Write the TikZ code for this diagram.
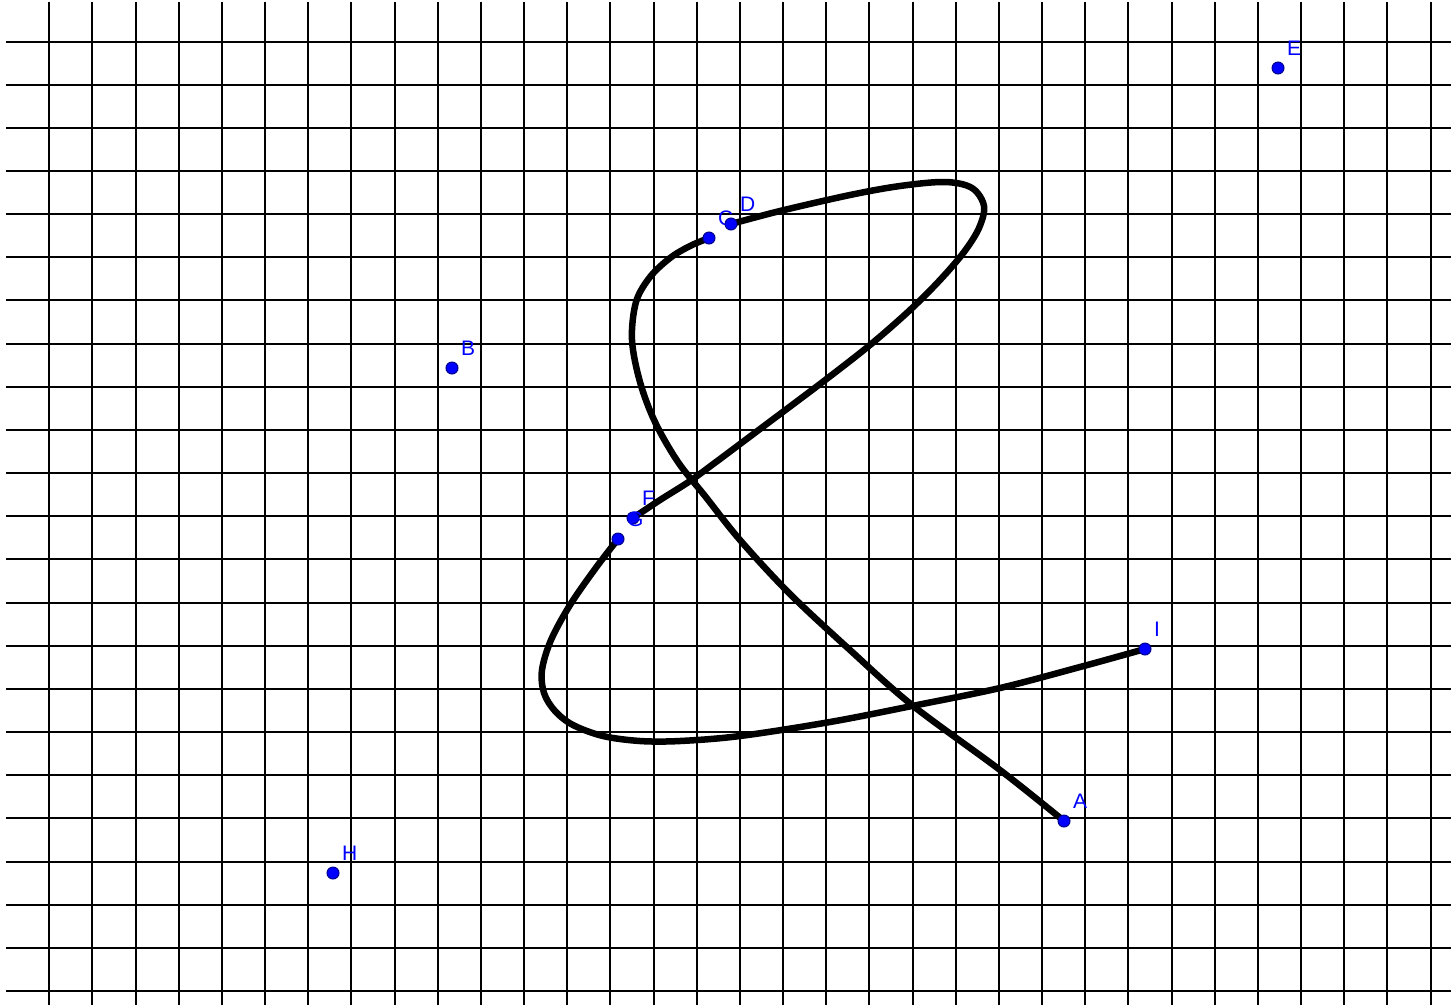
\documentclass[tikz,border=0pt]{standalone}
\usepackage{fontspec}
\setmainfont{Liberation Sans}
\definecolor{ptblue}{RGB}{0,0,255}
\begin{document}
\begin{tikzpicture}[x=1pt,y=-1pt,
  gridline/.style={line width=2pt,black},
  curve/.style={line width=6.5pt,black,line cap=round,line join=round},
  pt/.style={circle,fill=ptblue,draw=ptblue!55!black,line width=1pt,minimum size=12pt,inner sep=0pt},
  lbl/.style={text=ptblue,font=\fontsize{21}{21}\selectfont,inner sep=0pt,anchor=south west}]
\useasboundingbox (0,0) rectangle (1451,1005);
\fill[white] (0,0) rectangle (1451,1005);
% grid
\foreach \i in {0,...,32} \draw[gridline] ({49.2+43.17*\i},2) -- ({49.2+43.17*\i},1005);
\foreach \j in {0,...,22} \draw[gridline] (6,{41.5+43.16*\j}) -- (1451,{41.5+43.16*\j});
% point positions
\coordinate (A) at (1064,821);
\coordinate (B) at (452,368);
\coordinate (C) at (709,238);
\coordinate (D) at (731,224);
\coordinate (E) at (1278,68);
\coordinate (F) at (633,518);
\coordinate (G) at (618,539);
\coordinate (H) at (333,873);
\coordinate (I) at (1145,649);
% curves
\draw[curve] plot[smooth,tension=0.55] coordinates {(A) (1000,770) (912,705) (850,650) (790,594) (740,540) (705,496) (678,462) (655,422) (640,382) (632,340) (636,302) (650,277) (670,258) (690,246) (C)};
\draw[curve] plot[smooth,tension=0.55] coordinates {(D) (780,211) (850,195) (900,186) (945,182) (972,188) (984,206) (979,228) (964,252) (940,280) (910,310) (870,345) (820,384) (760,429) (720,459) (690,481) (660,500) (F)};
\draw[curve] plot[smooth,tension=0.55] coordinates {(G) (595,569) (570,605) (551,640) (542,670) (544,693) (555,711) (573,725) (603,736) (640,741) (680,741) (740,736) (830,722) (912,706) (1000,688) (1080,667) (I)};
% points and labels
\foreach \p in {A,B,C,D,E,F,G,H,I}{
  \node[pt] (dot\p) at (\p) {};
  \node[lbl] (lab\p) at ([shift={(9,-12)}]\p) {\p};
}
\end{tikzpicture}
\end{document}
